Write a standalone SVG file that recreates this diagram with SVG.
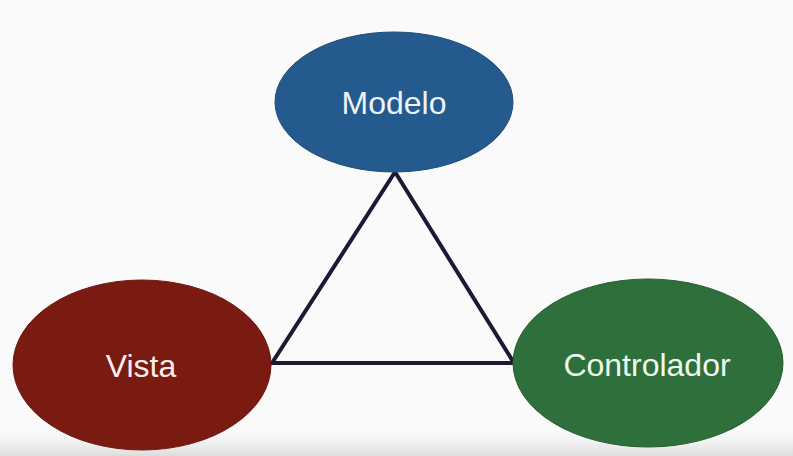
<svg xmlns="http://www.w3.org/2000/svg" width="793" height="456" viewBox="0 0 793 456">
<defs>
<linearGradient id="shade" x1="0" y1="0" x2="0" y2="1">
<stop offset="0" stop-color="#fbfafa" stop-opacity="0"/>
<stop offset="1" stop-color="#dcdcdc"/>
</linearGradient>
</defs>
<style>
.lbl{font-family:"Liberation Sans",Arial,sans-serif;font-size:32px;text-anchor:middle;}
.edge{stroke:#1b1a33;stroke-width:4;fill:none;stroke-linejoin:miter;}
</style>
<rect x="0" y="0" width="793" height="456" fill="#fbfafa"/>
<rect x="0" y="425" width="793" height="31" fill="url(#shade)"/>
<g id="connectors">
<polygon class="edge" points="395,172 272,363 514,363"/>
</g>
<g id="modelo">
<ellipse cx="394" cy="102" rx="119" ry="70" fill="#245a8d" stroke="#1f4e7a" stroke-width="1"/>
<text class="lbl" x="394" y="114" fill="#eef3fa">Modelo</text>
</g>
<g id="vista">
<ellipse cx="142" cy="365" rx="129" ry="85" fill="#7a1b11" stroke="#6a1610" stroke-width="1"/>
<text class="lbl" x="141" y="377" fill="#fbeeee">Vista</text>
</g>
<g id="controlador">
<ellipse cx="648" cy="363" rx="135" ry="84" fill="#2e6f3b" stroke="#275f33" stroke-width="1"/>
<text class="lbl" x="647" y="376" fill="#eef8ee">Controlador</text>
</g>
</svg>
